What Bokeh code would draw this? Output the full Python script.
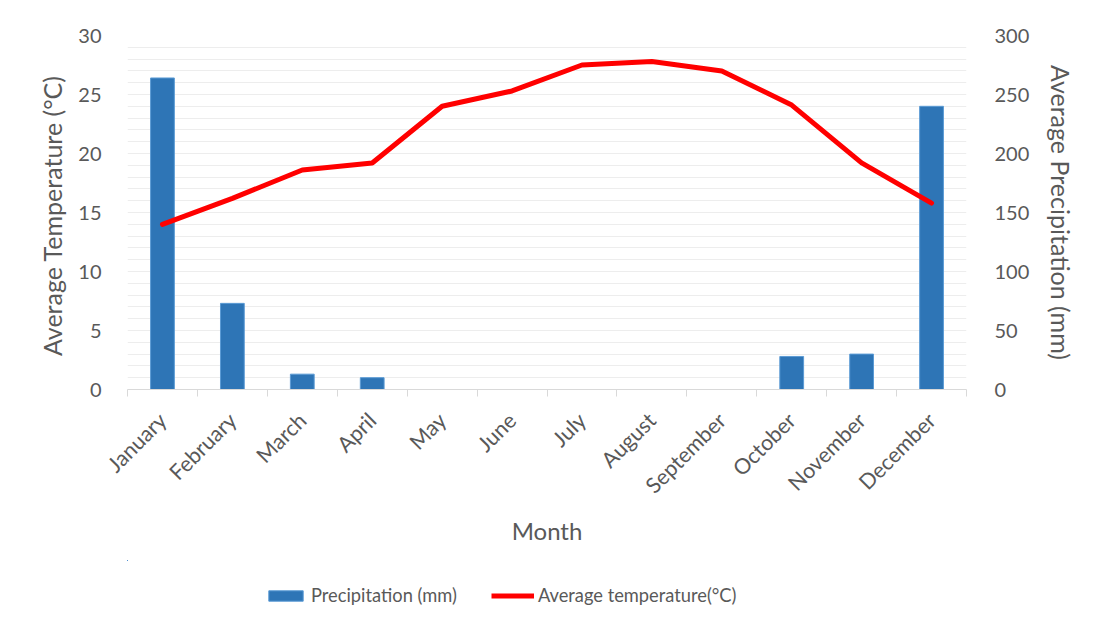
import numpy as np
from bokeh.plotting import figure
from bokeh.layouts import column
from bokeh.models import (Range1d, LinearAxis, FixedTicker, SingleIntervalTicker,
                          Legend, LegendItem, ColumnDataSource)
from bokeh.embed import file_html
from bokeh.resources import INLINE

months = ["January", "February", "March", "April", "May", "June", "July",
          "August", "September", "October", "November", "December"]
precipitation = [264, 73, 13, 10, 0, 0, 0, 0, 0, 28, 30, 240]
temperature = [14.0, 16.2, 18.6, 19.2, 24.0, 25.3, 27.5, 27.8, 27.0, 24.1, 19.2, 15.8]

FONT = "Lato"
TXT = "#595959"
BAR = "#2E75B6"
BAR_EDGE = "#5B9BD5"
RED = "#FF0000"

xpos = [i + 0.5 for i in range(len(months))]
src = ColumnDataSource(dict(x=xpos, month=months, precip=precipitation, temp=temperature))

W, H1, H2 = 1079, 560, 60
p = figure(width=W, height=H1, output_backend="svg", toolbar_location=None,
           x_range=Range1d(0, len(months)), y_range=Range1d(0, 30),
           min_border_left=127, min_border_right=106, min_border_top=35,
           min_border_bottom=171,
           outline_line_color=None, tools="")
p.background_fill_color = "white"
p.border_fill_color = "white"

p.extra_y_ranges = {"precip": Range1d(0, 300)}

bars = p.vbar(x="x", top="precip", width=0.34, source=src, y_range_name="precip",
              fill_color=BAR, line_color=BAR_EDGE, line_width=1)
line = p.line(x="x", y="temp", source=src, line_color=RED, line_width=5,
              line_cap="round", line_join="round")

# grid
p.xgrid.visible = False
p.ygrid.ticker = SingleIntervalTicker(interval=1, num_minor_ticks=0)
p.ygrid.grid_line_color = "#EDEDED"
p.ygrid.grid_line_width = 1

# x axis
xa = p.xaxis[0]
xa.ticker = FixedTicker(ticks=xpos, minor_ticks=list(range(len(months) + 1)))
xa.major_label_overrides = {x: m for x, m in zip(xpos, months)}
xa.major_label_orientation = np.pi / 4
xa.major_tick_line_color = None
xa.minor_tick_line_color = "#D9D9D9"
xa.minor_tick_out = 7
xa.minor_tick_in = 0
xa.axis_line_color = "#D9D9D9"
xa.axis_line_width = 1
xa.major_label_standoff = 20
xa.major_label_text_font = FONT
xa.major_label_text_font_size = "21.5px"
xa.major_label_text_color = TXT
xa.axis_label = "Month"
xa.axis_label_text_font = FONT
xa.axis_label_text_font_size = "24px"
xa.axis_label_text_font_style = "normal"
xa.axis_label_text_color = TXT
xa.axis_label_standoff = 5

# left axis
ya = p.yaxis[0]
ya.ticker = SingleIntervalTicker(interval=5, num_minor_ticks=0)
ya.axis_line_color = None
ya.major_tick_line_color = None
ya.minor_tick_line_color = None
ya.major_label_standoff = 20
ya.major_label_text_font = FONT
ya.major_label_text_font_size = "20px"
ya.major_label_text_color = TXT
ya.axis_label = "Average Temperature  (°C)"
ya.axis_label_text_font = FONT
ya.axis_label_text_font_size = "25px"
ya.axis_label_text_font_style = "normal"
ya.axis_label_text_color = TXT
ya.axis_label_standoff = 8

# right axis
ra = LinearAxis(y_range_name="precip", ticker=SingleIntervalTicker(interval=50, num_minor_ticks=0))
ra.axis_line_color = None
ra.major_tick_line_color = None
ra.minor_tick_line_color = None
ra.major_label_standoff = 22
ra.major_label_text_font = FONT
ra.major_label_text_font_size = "20px"
ra.major_label_text_color = TXT
ra.axis_label = "Average Precipitation (mm)"
ra.axis_label_text_font = FONT
ra.axis_label_text_font_size = "25px"
ra.axis_label_text_font_style = "normal"
ra.axis_label_text_color = TXT
ra.axis_label_standoff = 14
p.add_layout(ra, "right")

# legend strip (separate figure so the legend is not clipped by the plot frame);
# its renderers reuse the same data but lie outside this strip's visible range
lg = figure(width=W, height=H2, output_backend="svg", toolbar_location=None,
            x_range=Range1d(100, 101), y_range=Range1d(-1001, -1000),
            min_border=0, outline_line_color=None, tools="")
lg.axis.visible = False
lg.grid.visible = False
lg_bar = lg.vbar(x="x", top="precip", width=0.34, source=src,
                 fill_color=BAR, line_color=BAR_EDGE)
lg_line = lg.line(x="x", y="temp", source=src, line_color=RED, line_width=5,
                  line_cap="butt")

legend = Legend(items=[LegendItem(label="Precipitation (mm)", renderers=[lg_bar]),
                       LegendItem(label="Average temperature(°C)", renderers=[lg_line])],
                orientation="horizontal", location=(137, 14),
                glyph_width=43, glyph_height=13, label_standoff=4, spacing=34,
                padding=0, margin=0, border_line_color=None, background_fill_alpha=0,
                label_text_font=FONT, label_text_font_size="18.3px", label_text_color=TXT)
lg.add_layout(legend, "center")

layout = column(p, lg, spacing=0)
open("out.html", "w").write(file_html(layout, INLINE))
